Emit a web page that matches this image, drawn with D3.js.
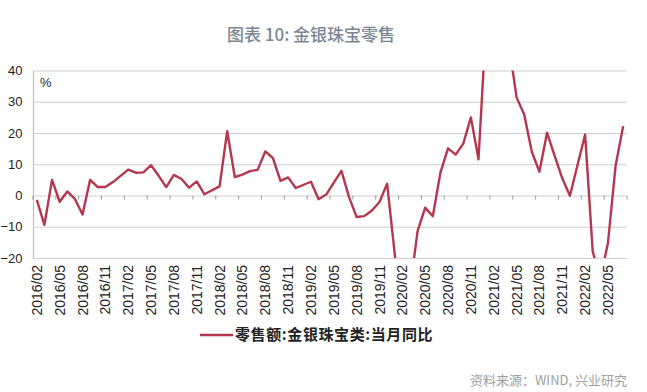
<!DOCTYPE html>
<meta charset="utf-8">
<style>
body { margin: 0; background: #fff; }
svg { display: block; }
.grid line { stroke: #cfcfcf; stroke-width: 1.2px; }
.grid path { stroke: #bdbdbd; stroke-width: 1.2px; }
.grid text { font-family: "Liberation Sans", Arial, sans-serif; font-size: 13px; fill: #222; }
.xtick { stroke: #9a9a9a; stroke-width: 1px; }
.xlabel { font-family: "Liberation Sans", Arial, sans-serif; font-size: 14px; fill: #222; }
.line { fill: none; stroke: #b5374f; stroke-width: 2.4px; stroke-linejoin: round; }
</style>
<svg width="647" height="392"></svg>
<script src="https://d3js.org/d3.v7.min.js"></script>
<script>

// months 2016/02 .. 2022/07, Wind leaves January empty (Jan-Feb combined)
var months = [];
for (var yr = 2016; yr <= 2022; yr++) {
  for (var mo = 1; mo <= 12; mo++) {
    if (yr == 2016 && mo < 2) continue;
    if (yr == 2022 && mo > 7) continue;
    months.push(yr + "/" + (mo < 10 ? "0" + mo : mo));
  }
}

// 零售额:金银珠宝类:当月同比 (%)
var values = [
  -1.4, -9.4, 5.0, -2.0, 1.3, -1.1, -6.1, 5.0, 2.7, 2.7, 4.3,      // 2016/02-12
  null, 8.3, 7.3, 7.4, 9.7, 6.3, 2.7, 6.6, 5.3, 2.5, 4.5, 0.4,     // 2017
  null, 2.9, 20.6, 5.9, 6.7, 7.8, 8.2, 14.1, 12.0, 4.7, 5.8, 2.4,  // 2018
  null, 4.4, -1.2, 0.3, 4.1, 7.9, -0.5, -6.9, -6.6, -4.8, -2.1, 3.8, // 2019
  null, -41.1, -30.1, -11.4, -3.9, -6.6, 7.3, 15.1, 13.1, 16.6, 25.0, 11.6, // 2020
  null, 98.6, 119.2, 48.3, 31.4, 25.9, 14.0, 7.6, 20.1, 12.7, 5.5, -0.1, // 2021
  null, 19.5, -17.9, -26.7, -15.2, 9.5, 22.2                       // 2022/01-07
];

var yTicks = [-20, -10, 0, 10, 20, 30, 40];
var tickLabels = months.filter(function(d, i) { return i % 3 == 0; });

var title = "图表 10: 金银珠宝零售";
var seriesName = "零售额:金银珠宝类:当月同比";
var source = "资料来源：WIND, 兴业研究";

var svg = d3.select("svg"),
    margin = {top: 70.5, right: 20, bottom: 134, left: 33},
    width = +svg.attr("width") - margin.left - margin.right,
    height = +svg.attr("height") - margin.top - margin.bottom,
    g = svg.append("g").attr("transform", "translate(" + margin.left + "," + margin.top + ")");

var x = d3.scaleBand().domain(months).range([0, width]).padding(0);
var y = d3.scaleLinear().domain([-20, 40]).range([height, 0]);

svg.append("text")
    .attr("x", 311).attr("y", 41)
    .attr("text-anchor", "middle")
    .style("font-family", "'Noto Sans CJK SC', sans-serif")
    .style("font-size", "17px")
    .style("font-weight", 500)
    .style("fill", "#7b8794")
    .text(title);

g.append("g")
    .attr("class", "grid")
    .call(d3.axisLeft(y).tickValues(yTicks).tickSize(-width).tickSizeOuter(0).tickPadding(10.5));

g.append("text")
    .attr("x", 7).attr("y", 16)
    .style("font-family", "'Liberation Sans', Arial, sans-serif")
    .style("font-size", "13px")
    .style("fill", "#222")
    .text("%");

// category ticks on the zero line, every 3 months
var tickPos = months.filter(function(d, i) { return i % 3 == 0; }).map(function(d) { return x(d); });
tickPos.push(width);
g.selectAll(".xtick")
  .data(tickPos)
  .enter().append("line")
    .attr("class", "xtick")
    .attr("x1", function(d) { return d; })
    .attr("x2", function(d) { return d; })
    .attr("y1", y(0))
    .attr("y2", y(0) + 4);

g.selectAll(".xlabel")
  .data(tickLabels)
  .enter().append("text")
    .attr("class", "xlabel")
    .attr("text-anchor", "end")
    .attr("dy", "0.36em")
    .attr("transform", function(d) {
      return "translate(" + (x(d) + x.bandwidth() / 2) + "," + (height + 7) + ") rotate(-90)";
    })
    .text(function(d) { return d; });

svg.append("clipPath").attr("id", "plot")
  .append("rect").attr("x", 0).attr("y", 0).attr("width", width).attr("height", height);

var pts = months.map(function(m, i) { return {m: m, v: values[i]}; })
    .filter(function(d) { return d.v != null; });

var line = d3.line()
    .x(function(d) { return x(d.m) + x.bandwidth() / 2; })
    .y(function(d) { return y(d.v); });

g.append("path")
    .datum(pts)
    .attr("class", "line")
    .attr("clip-path", "url(#plot)")
    .attr("d", line);

// legend
var lg = svg.append("g").attr("transform", "translate(200,335)");
lg.append("line")
    .attr("x1", 0).attr("x2", 33)
    .attr("stroke", "#b5374f").attr("stroke-width", 2.4);
lg.append("text")
    .attr("x", 35).attr("dy", "0.35em")
    .style("font-family", "'Noto Sans CJK SC', sans-serif")
    .style("font-size", "15px")
    .style("font-weight", 700)
    .style("letter-spacing", "0.6px")
    .style("fill", "#222")
    .text(seriesName);

svg.append("text")
    .attr("x", 627).attr("y", 385)
    .attr("text-anchor", "end")
    .style("font-family", "'Noto Sans CJK SC', sans-serif")
    .style("font-size", "13px")
    .style("fill", "#a0a0a0")
    .text(source);

</script>
